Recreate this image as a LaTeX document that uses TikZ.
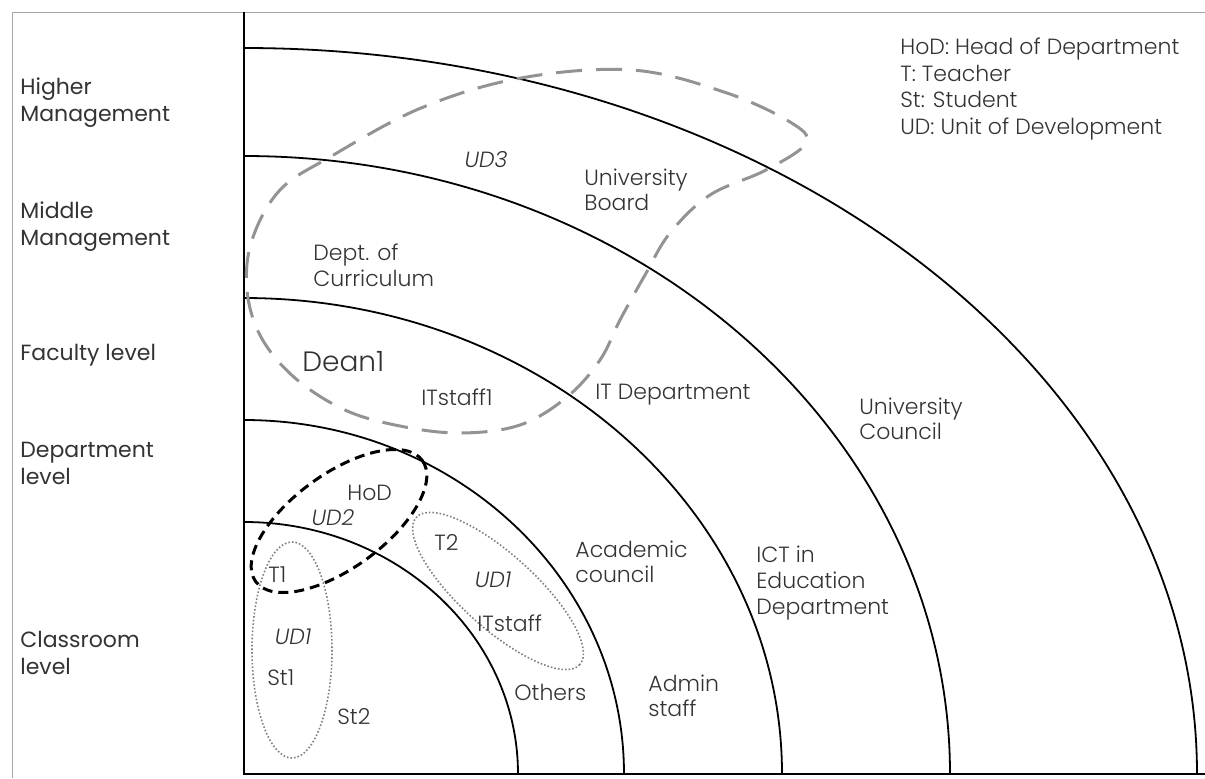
\documentclass[tikz,border=0pt]{standalone}
\usepackage{fontspec}
\setmainfont{Poppins}[UprightFont=* Light, ItalicFont=* Light Italic, BoldFont=*]
\begin{document}
\begin{tikzpicture}[x=0.5pt,y=-0.5pt,
    every node/.style={right,inner sep=0pt,align=left,text=black!80,font=\fontsize{11}{12.8}\selectfont},
    lvl/.style={font=\fontsize{11}{13.5}\selectfont\bfseries},
    udlabel/.style={anchor=center,font=\fontsize{11}{12.8}\selectfont\itshape},
    ring/.style={line width=0.9pt},
    udbig/.style={gray!85,line width=1.5pt,dash pattern=on 13pt off 7pt},
    udmid/.style={black,line width=1.5pt,dash pattern=on 5pt off 3pt},
    udsmall/.style={gray,line width=0.8pt,densely dotted}]
  \useasboundingbox (0,0) rectangle (1205,778);
  \draw[gray!70,line width=0.5pt] (12,778) -- (12,12) -- (1205,12);
  \draw[line width=1pt] (244,12) -- (244,774) -- (1205,774);
  \foreach \a/\b in {953/726,706/618,538/476,380/354,274/252}
    \draw[ring] (244+\a,774) arc[start angle=0,end angle=-90,x radius=\a,y radius=\b];
  % levels
  \node[lvl] (hm) at (20,103) {Higher\\Management};
  \node[lvl] (mm) at (20,227) {Middle\\Management};
  \node[lvl] (fl) at (20,355) {Faculty level};
  \node[lvl] (dl) at (20,463) {Department\\level};
  \node[lvl] (cl) at (20,653) {Classroom\\level};
  \node[font=\fontsize{11}{13.3}\selectfont] (key) at (900,89) {HoD: Head of Department\\T: Teacher\\St: Student\\UD: Unit of Development};
  % units
  \coordinate (c2) at (339,521);
  \coordinate (cl1) at (292,650);
  \coordinate (cr1) at (498,591);
  \draw[udbig] plot[smooth cycle,tension=0.6] coordinates {(806,143) (766,170) (710,195) (670,233)
    (645,275) (620,320) (600,360) (567,397) (520,425) (460,433) (400,426) (345,410) (295,378)
    (261,337) (247,290) (252,240) (280,190) (330,157) (421,108) (521,78) (632,70) (724,92) (790,122)};
  \draw[udmid,rotate around={36:(c2)}] (c2) ellipse[x radius=103,y radius=47];
  \draw[udsmall] (cl1) ellipse[x radius=40,y radius=108];
  \draw[udsmall,rotate around={-42:(cr1)}] (cr1) ellipse[x radius=110,y radius=37];
  % bodies
  \node[udlabel] (ud3) at (486,160) {UD3};
  \node (ub) at (584,190) {University\\Board};
  \node (doc) at (313,265) {Dept. of\\Curriculum};
  \node[font=\fontsize{14}{16}\selectfont] (dean) at (302,362) {Dean1};
  \node (its1) at (421,397) {ITstaff1};
  \node (itd) at (595,395) {IT Department};
  \node (uc) at (859,419) {University\\Council};
  \node (ict) at (756,583) {ICT in\\Education\\Department};
  \node (ac) at (575,562) {Academic\\council};
  \node (as) at (648,696) {Admin\\staff};
  \node (oth) at (514,692) {Others};
  \node (hod) at (347,493) {HoD};
  \node[udlabel] (ud2) at (333,518) {UD2};
  \node (t1) at (268,575) {T1};
  \node[udlabel] (udl) at (293,637) {UD1};
  \node (st1) at (267,678) {St1};
  \node (st2) at (337,717) {St2};
  \node (t2) at (434,542) {T2};
  \node[udlabel] (udr) at (493,580) {UD1};
  \node (its) at (477,623) {ITstaff};
\end{tikzpicture}
\end{document}
